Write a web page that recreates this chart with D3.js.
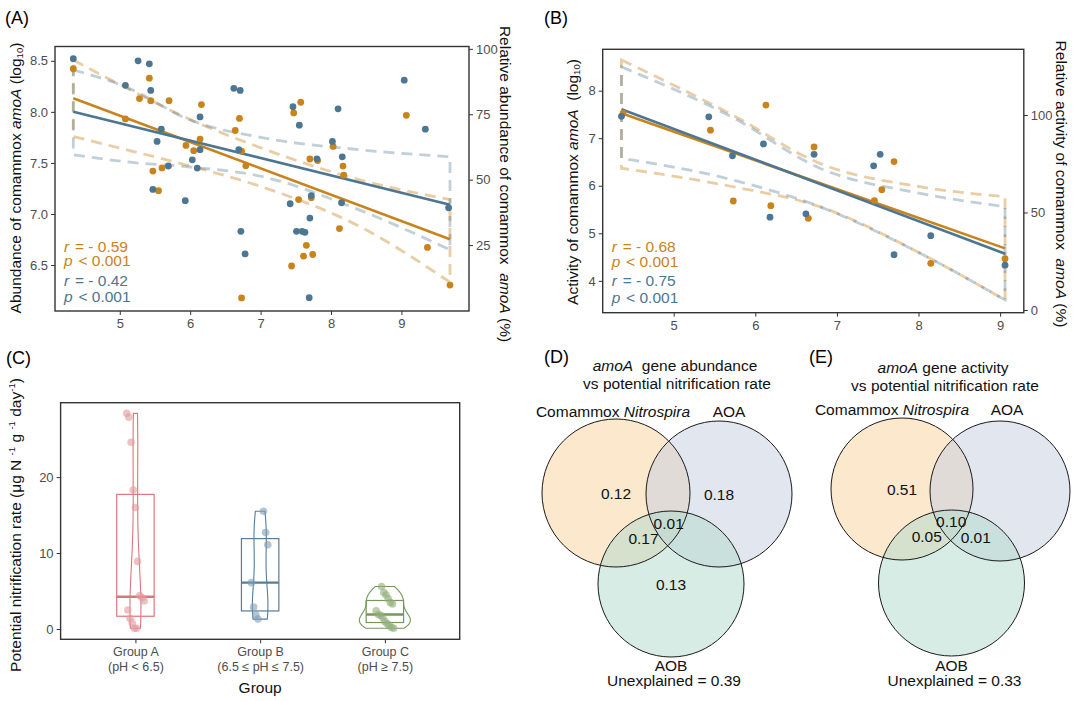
<!DOCTYPE html>
<html>
<head>
<meta charset="utf-8">
<script src="https://cdn.jsdelivr.net/npm/d3@7"></script>
<style>
body { margin: 0; background: #fff; }
svg text { white-space: pre; }
</style>
</head>
<body>
<script>
// ---------- data ----------
// (A) comammox amoA abundance vs pH
var phAbs = [4.34,5.26,5.42,5.08,5.44,6.14,5.59,5.53,6.14,5.69,6.03,6.10,5.47,5.93,6.62,6.71,7.46,7.55,8.10,9.04,9.34,6.69,8.02,7.80,8.16,7.42,7.72,8.15,6.72,6.78,7.51,7.59,7.63,7.70,7.69,9.67];
var absA  = [8.52,8.50,8.47,8.26,8.21,7.95,7.83,7.71,7.63,7.47,7.53,7.45,7.24,7.13,8.23,8.21,8.05,7.87,8.03,8.31,7.83,7.63,7.71,7.54,7.56,7.10,7.18,7.11,6.83,6.61,6.83,6.83,6.82,6.96,6.18,7.06];
var phRelA = [4.34,5.42,5.28,5.44,5.70,6.16,5.08,6.14,5.94,6.05,5.47,5.60,5.55,6.64,6.70,6.73,6.79,7.57,7.47,7.70,7.81,8.03,8.17,8.18,7.54,7.72,8.12,7.65,7.61,7.74,7.44,6.73,9.07,9.37,9.69];
var relA   = [92.4,88.8,81.0,80.2,80.2,78.7,73.2,65.5,63.1,61.1,53.3,54.5,45.8,68.8,73.4,60.9,55.3,79.6,75.5,57.9,57.3,62.7,55.2,51.7,42.4,43.1,31.3,24.9,20.8,21.4,17.0,4.8,74.6,24.1,9.7];
var fitXA = [4.34, 9.69];
var fitAbsA = [8.00, 7.09];
var fitRelA = [81.1, 27.2];
var ciXA = [4.34, 5.1, 6.0, 7.0, 8.4, 9.69];
var ciAbsHiA = [8.41, 8.24, 7.92, 7.75, 7.63, 7.56];
var ciAbsLoA = [7.58, 7.51, 7.46, 7.37, 7.04, 6.65];
var ciRelHiA = [95.7, 85.0, 73.0, 62.2, 50.0, 42.4];
var ciRelLoA = [66.5, 61.4, 55.2, 47.4, 32.2, 10.8];

// (B) comammox amoA activity vs pH
var phActB = [4.36,5.43,5.72,6.10,6.18,6.62,6.72,7.45,7.53,7.70,8.15,9.06];
var actB   = [7.46,7.45,6.63,6.88,5.34,5.41,6.66,6.42,6.66,4.55,4.95,4.33];
var phRelB = [4.38,5.45,5.73,6.13,6.19,6.65,6.72,7.46,7.55,7.70,8.15,9.06];
var relB   = [100.9,92.2,55.9,105.1,53.5,47.0,83.6,56.1,61.7,76.1,23.9,26.3];
var fitXB = [4.36, 9.06];
var fitActB = [7.61, 4.57];
var fitRelB = [100.9, 31.6];
var ciXB = [4.36, 5.73, 6.79, 8.02, 9.06];
var ciActHiB = [8.50, 7.43, 6.37, 5.84, 5.56];
var ciActLoB = [6.58, 6.12, 5.56, 4.58, 3.60];
var ciRelHiB = [128.2, 99.8, 75.2, 63.2, 58.1];
var ciRelLoB = [72.7, 63.2, 53.0, 29.1, 5.1];

// (C) potential nitrification rate by group
var groups = ["Group A", "Group B", "Group C"];
var groupSub = ["(pH < 6.5)", "(6.5 \u2264 pH \u2264 7.5)", "(pH \u2265 7.5)"];
var rateA = [28.4,27.9,24.6,18.3,16.0,8.9,4.4,4.1,3.7,2.5,1.4,0.8,0.1,0.1];
var rateB = [15.5,12.7,11.1,6.1,2.9,1.85,1.3];
var rateC = [5.6,4.8,4.5,4.0,3.5,3.3,2.4,1.9,1.8,1.5,1.0,0.7,0.5,0.2,0.1];

// (D)/(E) variation partitioning
// region order: Comammox only, AOA only, AOB only, Com&AOB, Com&AOA, AOA&AOB, all three
var vennRegions = [[0],[1],[2],[0,2],[0,1],[1,2],[0,1,2]];
var vennAbund = [0.12, 0.18, 0.13, 0.17, null, null, 0.01];
var vennActiv = [0.51, null, null, 0.05, null, 0.01, 0.10];
var unexplained = [0.39, 0.33];

// ---------- setup ----------
var FONT = '"Liberation Sans", Arial, sans-serif';
var ORANGE = "#c8831c", BLUE = "#4d7692";
var INK = "#333";

var svg = d3.select("body").append("svg")
    .attr("width", 1080).attr("height", 701)
    .style("font-family", FONT);

function styleAxis(g, fs) {
    g.select(".domain").remove();
    g.selectAll(".tick line").attr("stroke", INK);
    g.selectAll(".tick text").attr("fill", "#4d4d4d")
        .style("font-size", fs + "px").style("font-family", FONT);
}

function panelLabel(txt, x, y) {
    svg.append("text").attr("x", x).attr("y", y).style("font-size", "18px").text(txt);
}

// rotated title, parts = [text, italic?, dy for small, dy back]
function rotTitle(x, y, angle, parts, fs) {
    var t = svg.append("text")
        .attr("transform", "translate(" + x + "," + y + ") rotate(" + angle + ")")
        .attr("text-anchor", "middle").style("font-size", fs + "px").attr("fill", "#111");
    parts.forEach(function (p) {
        var s = t.append("tspan").text(p[0]);
        if (p[1]) s.style("font-style", "italic");
        if (p[2]) s.attr("dy", p[2]).style("font-size", (fs * 0.62) + "px");
        if (p[3]) s.attr("dy", p[3]);
    });
    return t;
}

// dashed ribbon outline
function band(g, x, y, xs, hi, lo, col, op) {
    var ln = d3.line().x(function (d) { return x(d[0]); }).y(function (d) { return y(d[1]); })
        .curve(d3.curveMonotoneX);
    var up = xs.map(function (v, i) { return [v, hi[i]]; });
    var dn = xs.map(function (v, i) { return [v, lo[i]]; });
    var dnPath = ln(dn.slice().reverse());
    g.append("path")
        .attr("d", ln(up) + "L" + dnPath.slice(1) + "Z")
        .attr("fill", "none").attr("stroke", col).attr("stroke-opacity", op)
        .attr("stroke-width", 2.8).attr("stroke-dasharray", "11,7");
}

function scatterPanel(p) {
    var x = d3.scaleLinear().domain(p.xDom).range([p.x0, p.x1]);
    var yL = d3.scaleLinear().domain(p.yLDom).range([p.y1, p.y0]);
    var yR = d3.scaleLinear().domain(p.yRDom).range([p.y1, p.y0]);
    var g = svg.append("g");

    band(g, x, yR, p.ciX, p.relHi, p.relLo, ORANGE, 0.4);
    band(g, x, yL, p.ciX, p.absHi, p.absLo, BLUE, 0.35);

    g.append("line").attr("x1", x(p.fitX[0])).attr("x2", x(p.fitX[1]))
        .attr("y1", yR(p.fitRel[0])).attr("y2", yR(p.fitRel[1]))
        .attr("stroke", ORANGE).attr("stroke-width", 2.6);
    g.append("line").attr("x1", x(p.fitX[0])).attr("x2", x(p.fitX[1]))
        .attr("y1", yL(p.fitAbs[0])).attr("y2", yL(p.fitAbs[1]))
        .attr("stroke", BLUE).attr("stroke-width", 2.6);

    g.append("g").selectAll("circle").data(p.rel).enter().append("circle")
        .attr("cx", function (d, i) { return x(p.relX[i]); })
        .attr("cy", function (d) { return yR(d); })
        .attr("r", 3.4).attr("fill", ORANGE);
    g.append("g").selectAll("circle").data(p.abs).enter().append("circle")
        .attr("cx", function (d, i) { return x(p.absX[i]); })
        .attr("cy", function (d) { return yL(d); })
        .attr("r", 3.4).attr("fill", BLUE);

    // stats
    p.stats.forEach(function (s, i) {
        var t = g.append("text").attr("x", p.x0 + 9).attr("y", p.statY[i])
            .style("font-size", "15.5px").attr("fill", s[2]);
        t.append("tspan").style("font-style", "italic").text(s[0]);
        t.append("tspan").attr("dx", 1.5).text(s[1]);
    });

    var gx = svg.append("g").attr("transform", "translate(0," + p.y1 + ")")
        .call(d3.axisBottom(x).tickValues(p.xTicks).tickSize(4).tickPadding(4).tickFormat(d3.format("d")));
    styleAxis(gx, 13);
    var gl = svg.append("g").attr("transform", "translate(" + p.x0 + ",0)")
        .call(d3.axisLeft(yL).tickValues(p.lTicks).tickSize(4).tickPadding(3).tickFormat(d3.format(p.lFmt)));
    styleAxis(gl, 13);
    var gr = svg.append("g").attr("transform", "translate(" + p.x1 + ",0)")
        .call(d3.axisRight(yR).tickValues(p.rTicks).tickSize(4).tickPadding(3).tickFormat(d3.format("d")));
    styleAxis(gr, 13);

    svg.append("rect").attr("x", p.x0).attr("y", p.y0)
        .attr("width", p.x1 - p.x0).attr("height", p.y1 - p.y0)
        .attr("fill", "none").attr("stroke", INK).attr("stroke-width", 1.4);
}

// ---------- (A) ----------
panelLabel("(A)", 5, 24);
scatterPanel({
    x0: 55, x1: 469, y0: 46.5, y1: 311,
    xDom: [4.08, 9.96], yLDom: [6.05, 8.64], yRDom: [-0.2, 100.9],
    xTicks: [5, 6, 7, 8, 9], lTicks: [6.5, 7.0, 7.5, 8.0, 8.5], lFmt: ".1f", rTicks: [25, 50, 75, 100],
    absX: phAbs, abs: absA, relX: phRelA, rel: relA,
    fitX: fitXA, fitAbs: fitAbsA, fitRel: fitRelA,
    ciX: ciXA, absHi: ciAbsHiA, absLo: ciAbsLoA, relHi: ciRelHiA, relLo: ciRelLoA,
    stats: [["r", " = - 0.59", ORANGE], ["p", " < 0.001", ORANGE], ["r", " = - 0.42", BLUE], ["p", " < 0.001", BLUE]],
    statY: [252, 266, 286, 302]
});
rotTitle(21, 178, -90, [["Abundance of comammox "], ["amoA", true], [" (log"], ["10", false, 2], [")", false, null, -2]], 15.5);
rotTitle(500, 184, 90, [["Relative abundance of comammox  "], ["amoA", true], [" (%)"]], 15.5);

// ---------- (B) ----------
panelLabel("(B)", 544, 24);
scatterPanel({
    x0: 602.7, x1: 1023.8, y0: 49.3, y1: 312.7,
    xDom: [4.13, 9.29], yLDom: [3.33, 8.87], yRDom: [-1.4, 133.7],
    xTicks: [5, 6, 7, 8, 9], lTicks: [4, 5, 6, 7, 8], lFmt: "d", rTicks: [0, 50, 100],
    absX: phActB, abs: actB, relX: phRelB, rel: relB,
    fitX: fitXB, fitAbs: fitActB, fitRel: fitRelB,
    ciX: ciXB, absHi: ciActHiB, absLo: ciActLoB, relHi: ciRelHiB, relLo: ciRelLoB,
    stats: [["r", " = - 0.68", ORANGE], ["p", " < 0.001", ORANGE], ["r", " = - 0.75", BLUE], ["p", " < 0.001", BLUE]],
    statY: [252, 267, 286, 303]
});
rotTitle(578, 182, -90, [["Activity of comammox "], ["amoA", true], ["  (log"], ["10", false, 2], [")", false, null, -2]], 15.5);
rotTitle(1056, 184, 90, [["Relative activity of comammox  "], ["amoA", true], [" (%)"]], 15.5);

// ---------- (C) ----------
panelLabel("(C)", 6, 364);
(function () {
    var x0 = 60.6, x1 = 459.7, y0 = 402.7, y1 = 639.3;
    var x = d3.scalePoint().domain(groups).range([x0, x1]).padding(0.6);
    var y = d3.scaleLinear().domain([-1.36, 29.8]).range([y1, y0]);
    var step = x.step();
    var sets = [rateA, rateB, rateC];
    var strokes = ["#d9787c", "#557d99", "#74975c"];
    var fills = ["#e39a9d", "#7f9fb5", "#8fae78"];

    function kde(vals) {
        var s = vals.slice().sort(d3.ascending);
        var iqr = d3.quantile(s, 0.75) - d3.quantile(s, 0.25);
        var bw = 0.9 * Math.min(d3.deviation(s), iqr / 1.34) * Math.pow(s.length, -0.2);
        var lo = s[0], hi = s[s.length - 1];
        return d3.range(101).map(function (i) {
            var v = lo + (hi - lo) * i / 100;
            var den = d3.mean(s, function (d) { return Math.exp(-0.5 * Math.pow((v - d) / bw, 2)); }) / (bw * Math.sqrt(2 * Math.PI));
            return [v, den];
        });
    }
    var dens = sets.map(kde);
    var maxDen = d3.max(dens, function (d) { return d3.max(d, function (e) { return e[1]; }); });
    var wScale = d3.scaleLinear().domain([0, maxDen]).range([0, 25.5]);

    var g = svg.append("g");
    sets.forEach(function (vals, k) {
        var cx = x(groups[k]);
        var area = d3.area()
            .y(function (d) { return y(d[0]); })
            .x0(function (d) { return cx - wScale(d[1]); })
            .x1(function (d) { return cx + wScale(d[1]); })
            .curve(d3.curveBasis);
        g.append("path").attr("d", area(dens[k]))
            .attr("fill", "none").attr("stroke", strokes[k]).attr("stroke-width", 1.1);

        var s = vals.slice().sort(d3.ascending);
        var q1 = d3.quantile(s, 0.25), med = d3.quantile(s, 0.5), q3 = d3.quantile(s, 0.75);
        var bw = step * 0.3;
        g.append("rect").attr("x", cx - bw / 2).attr("width", bw)
            .attr("y", y(q3)).attr("height", y(q1) - y(q3))
            .attr("fill", "none").attr("stroke", strokes[k]).attr("stroke-width", 1.2);
        g.append("line").attr("x1", cx - bw / 2).attr("x2", cx + bw / 2)
            .attr("y1", y(med)).attr("y2", y(med))
            .attr("stroke", strokes[k]).attr("stroke-width", 2.4);

        g.append("g").selectAll("circle").data(vals).enter().append("circle")
            .attr("cx", function (d, i) { return cx + ((((i * 53 + k * 11) % 17) / 16) - 0.5) * 0.14 * step; })
            .attr("cy", function (d) { return y(d); })
            .attr("r", 3.8).attr("fill", fills[k]).attr("fill-opacity", 0.6);
    });

    var gx = svg.append("g").attr("transform", "translate(0," + y1 + ")")
        .call(d3.axisBottom(x).tickSize(4).tickPadding(4));
    styleAxis(gx, 12.5);
    gx.selectAll(".tick text").each(function (d, i) {
        var t = d3.select(this).text(null);
        t.append("tspan").attr("x", 0).attr("dy", "0.71em").text(d);
        t.append("tspan").attr("x", 0).attr("dy", "1.2em").text(groupSub[i]);
    });
    var gy = svg.append("g").attr("transform", "translate(" + x0 + ",0)")
        .call(d3.axisLeft(y).tickValues([0, 10, 20]).tickSize(4).tickPadding(3));
    styleAxis(gy, 13);

    svg.append("rect").attr("x", x0).attr("y", y0).attr("width", x1 - x0).attr("height", y1 - y0)
        .attr("fill", "none").attr("stroke", INK).attr("stroke-width", 1.4);

    svg.append("text").attr("x", x(groups[1])).attr("y", 693).attr("text-anchor", "middle")
        .style("font-size", "15.5px").attr("fill", "#111").text("Group");
    rotTitle(21, 525, -90, [["Potential nitrification rate (\u03bcg N "], ["-1", false, -6], [" g ", false, null, 6], ["-1", false, -6], [" day", false, null, 6], ["-1", false, -6], [")", false, null, 6]], 15.5);
})();

// ---------- (D) / (E) ----------
function venn(cfg) {
    var g = svg.append("g");
    var fillsV = ["#f8d29f", "#c7cfe0", "#b3dacb"];
    cfg.circles.forEach(function (c, i) {
        g.append("circle").attr("cx", c[0]).attr("cy", c[1]).attr("r", c[2])
            .attr("fill", fillsV[i]).attr("fill-opacity", 0.52);
    });
    cfg.circles.forEach(function (c) {
        g.append("circle").attr("cx", c[0]).attr("cy", c[1]).attr("r", c[2])
            .attr("fill", "none").attr("stroke", "#1a1a1a").attr("stroke-width", 1);
    });
    vennRegions.forEach(function (reg, i) {
        var v = cfg.values[i];
        if (v === null) return;
        var px = d3.mean(reg, function (k) { return cfg.circles[k][0]; });
        var py = d3.mean(reg, function (k) { return cfg.circles[k][1]; });
        g.append("text").attr("x", px).attr("y", py + 5.5).attr("text-anchor", "middle")
            .style("font-size", "15.5px").attr("fill", "#111").text(d3.format(".2f")(v));
    });
    var t1 = g.append("text").attr("x", cfg.titleX).attr("y", cfg.titleY).attr("text-anchor", "middle")
        .style("font-size", "15.5px").attr("fill", "#111");
    t1.append("tspan").style("font-style", "italic").text("amoA");
    t1.append("tspan").text(cfg.title);
    g.append("text").attr("x", cfg.titleX + 2).attr("y", cfg.titleY + 18).attr("text-anchor", "middle")
        .style("font-size", "15.5px").attr("fill", "#111").text("vs potential nitrification rate");
    var t2 = g.append("text").attr("x", cfg.comX).attr("y", cfg.setY).attr("text-anchor", "middle")
        .style("font-size", "15.5px").attr("fill", "#111");
    t2.append("tspan").text("Comammox ");
    t2.append("tspan").style("font-style", "italic").text("Nitrospira");
    g.append("text").attr("x", cfg.aoaX).attr("y", cfg.setY).attr("text-anchor", "middle")
        .style("font-size", "15.5px").attr("fill", "#111").text("AOA");
    g.append("text").attr("x", cfg.circles[2][0]).attr("y", 671).attr("text-anchor", "middle")
        .style("font-size", "15.5px").attr("fill", "#111").text("AOB");
    g.append("text").attr("x", cfg.circles[2][0] + 3).attr("y", 686).attr("text-anchor", "middle")
        .style("font-size", "15.5px").attr("fill", "#111").text("Unexplained = " + d3.format(".2f")(cfg.unexpl));
}

panelLabel("(D)", 544, 363);
venn({
    circles: [[616, 493, 74], [719, 494, 73], [671, 584, 73]],
    values: vennAbund, unexpl: unexplained[0],
    title: "  gene abundance", titleX: 675, titleY: 371,
    comX: 613, aoaX: 729, setY: 417
});
panelLabel("(E)", 809, 363);
venn({
    circles: [[902, 489, 71], [1000, 491, 70], [951.5, 583, 73]],
    values: vennActiv, unexpl: unexplained[1],
    title: " gene activity", titleX: 943, titleY: 373,
    comX: 892, aoaX: 1007, setY: 415
});
</script>
</body>
</html>
